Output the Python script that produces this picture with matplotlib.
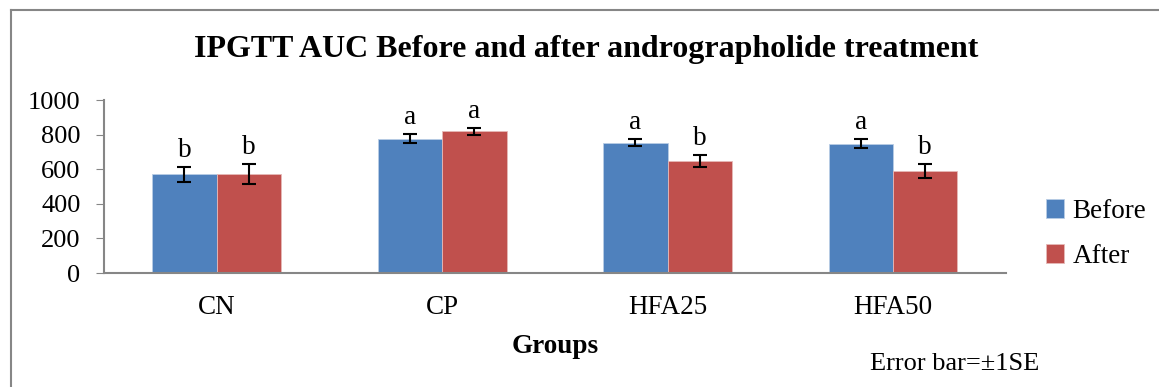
import numpy as np
import matplotlib.pyplot as plt
from matplotlib.lines import Line2D

groups = ['CN', 'CP', 'HFA25', 'HFA50']
before = [570, 776, 753, 747]
after = [570, 819, 647, 588]
before_se = [42, 25, 19, 25]
after_se = [58, 21, 33, 40]
before_letters = ['b', 'a', 'a', 'a']
after_letters = ['b', 'a', 'b', 'b']

plt.rcParams['font.family'] = ['Liberation Serif', 'DejaVu Serif']

W, H = 1159, 387
fig = plt.figure(figsize=(W / 100, H / 100), dpi=100)
ax = fig.add_axes([104 / W, 1 - 273 / H, (1005.7 - 104) / W, 173 / H])

x = np.arange(len(groups))
w = 0.286
blue = '#4f81bd'
red = '#c0504d'
ax.bar(x - w / 2, before, w, color=blue, edgecolor='#b9cde5', linewidth=0.6, label='Before')
ax.bar(x + w / 2, after, w, color=red, edgecolor='#e6b9b8', linewidth=0.6, label='After')
ax.errorbar(x - w / 2, before, yerr=before_se, fmt='none', ecolor='black', elinewidth=1.5, capsize=5, capthick=1.5)
ax.errorbar(x + w / 2, after, yerr=after_se, fmt='none', ecolor='black', elinewidth=1.5, capsize=5, capthick=1.5)

for i in range(len(groups)):
    ax.annotate(before_letters[i], (x[i] - w / 2, before[i] + before_se[i]), xytext=(0, 3),
                textcoords='offset points', ha='center', va='bottom', fontsize=19.5)
    ax.annotate(after_letters[i], (x[i] + w / 2, after[i] + after_se[i]), xytext=(0, 3),
                textcoords='offset points', ha='center', va='bottom', fontsize=19.5)

ax.set_xlim(-0.5, 3.5)
ax.set_ylim(0, 1000)
ax.set_yticks(range(0, 1001, 200))
ax.set_xticks(x)
ax.set_xticklabels(groups)
ax.tick_params(axis='y', labelsize=19, length=6, color='#868686', pad=11)
ax.tick_params(axis='x', labelsize=19.5, length=0, pad=16)
for s in ['top', 'right']:
    ax.spines[s].set_visible(False)
for s in ['left', 'bottom']:
    ax.spines[s].set_color('#868686')
    ax.spines[s].set_linewidth(1.5)

ax.set_xlabel('Groups', fontsize=19.5, fontweight='bold', labelpad=10)
fig.text(586 / W, 1 - 49 / H, 'IPGTT AUC Before and after andrographolide treatment',
         ha='center', va='center', fontsize=23, fontweight='bold')
fig.text(870 / W, 1 - 364 / H, 'Error bar=\u00b11SE', ha='left', va='center', fontsize=19)

ax.legend(loc='center left', bbox_to_anchor=(1046 / W, 1 - 234 / H), bbox_transform=fig.transFigure,
          frameon=False, fontsize=19.5, handlelength=0.68, handleheight=0.68, handletextpad=0.3,
          labelspacing=0.72, borderpad=0, borderaxespad=0)

fig.add_artist(Line2D([10.5 / W, 10.5 / W], [0, 1 - 10 / H], transform=fig.transFigure, color='#868686', lw=1.5))
fig.add_artist(Line2D([10.5 / W, 1], [1 - 10 / H, 1 - 10 / H], transform=fig.transFigure, color='#868686', lw=1.5))

fig.savefig('out.png', dpi=100)
